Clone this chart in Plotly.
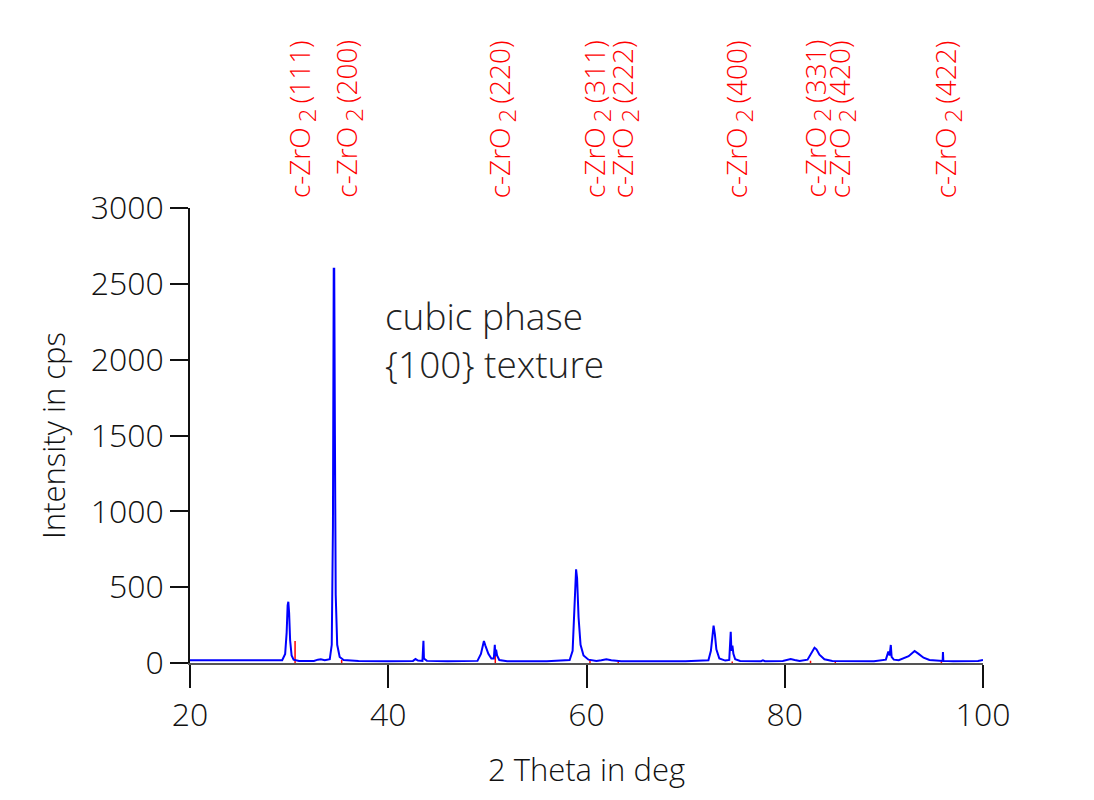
import plotly.graph_objects as go

theta = [20, 25, 28, 29.3, 29.6, 29.75, 29.85, 29.92, 30.0, 30.1, 30.25, 30.45, 31, 32.5, 32.9, 33.2, 33.6,
         34.1, 34.3, 34.42, 34.5, 34.55, 34.62, 34.7, 34.85, 35.1, 35.5, 37, 40, 42.5, 42.75, 43.0, 43.45,
         43.55, 43.6, 43.7, 43.9, 46, 49.0, 49.35, 49.55, 49.65, 49.8, 50.1, 50.4, 50.65, 50.75, 50.8,
         50.88, 50.98, 51.2, 52, 56, 58.3, 58.6, 58.8, 58.95, 59.05, 59.2, 59.4, 59.7, 60.2, 61, 61.5, 62.0,
         62.5, 63.5, 70, 72.3, 72.55, 72.75, 72.82, 72.95, 73.1, 73.4, 74.0, 74.4, 74.55, 74.62, 74.72,
         74.82, 75.0, 75.5, 77.6, 77.8, 78.0, 79.8, 80.2, 80.6, 81.0, 81.5, 82.3, 82.7, 83.0, 83.2, 83.5,
         84.0, 84.8, 89, 90.2, 90.45, 90.58, 90.7, 90.78, 91.0, 91.5, 92.5, 93.1, 93.5, 94.0, 94.6, 95.5,
         95.93, 95.96, 96.0, 97, 99.5, 100]
intensity = [18, 17, 15, 18, 60, 200, 380, 404, 330, 150, 50, 22, 14, 14, 22, 24, 18,
             25, 120, 900, 2600, 2600, 1500, 450, 120, 40, 20, 14, 12, 14, 26, 16, 14,
             147, 30, 26, 14, 12, 14, 60, 130, 145, 115, 60, 30, 30, 120, 45,
             88, 50, 20, 12, 12, 20, 80, 400, 618, 560, 300, 120, 50, 22, 14, 18, 24,
             18, 12, 12, 18, 80, 230, 246, 190, 90, 30, 16, 20, 206, 80, 114,
             60, 25, 14, 12, 18, 12, 14, 22, 26, 20, 14, 22, 70, 101, 90, 55,
             25, 14, 12, 22, 75, 50, 119, 40, 22, 18, 45, 79, 60, 35, 20, 14,
             14, 72, 14, 12, 13, 20]

# Reference pattern c-ZrO2
ref_theta = [30.6, 35.3, 50.8, 60.35, 63.2, 74.7, 82.6, 85.1, 95.8]
ref_height = [145, 20, 60, 20, 8, 10, 15, 10, 12]
ref_hkl = ["111", "200", "220", "311", "222", "400", "331", "420", "422"]

FONT = "Open Sans"
W = 350

stick_x, stick_y = [], []
for t, h in zip(ref_theta, ref_height):
    stick_x += [t, t, None]
    stick_y += [0, h, None]

fig = go.Figure()
fig.add_trace(go.Scatter(x=stick_x, y=stick_y, mode="lines",
                         line=dict(color="#ff0000", width=1.5), hoverinfo="skip", showlegend=False))
fig.add_trace(go.Scatter(x=theta, y=intensity, mode="lines",
                         line=dict(color="#0000ff", width=2), showlegend=False))

for t, hkl in zip(ref_theta, ref_hkl):
    fig.add_annotation(x=t, xref="x", y=1, yref="paper", yanchor="bottom", xanchor="center",
                       yshift=8, xshift=6, textangle=-90, showarrow=False,
                       text="c-ZrO<sub> <span style=\"font-size:24px\">2</span> </sub>(" + hkl + ")",
                       font=dict(family=FONT, size=28, color="#ff0000", weight=W))

fig.add_annotation(x=39.5, xref="x", y=2470, yref="y", xanchor="left", yanchor="top", align="left",
                   showarrow=False, text="cubic phase<br>{100} texture",
                   font=dict(family=FONT, size=37, color="#222222", weight=W))

fig.update_layout(
    width=1094, height=800,
    margin=dict(l=190, r=111, t=208, b=137),
    paper_bgcolor="white", plot_bgcolor="white",
    font=dict(family=FONT, size=31, color="#111111", weight=W),
    xaxis=dict(range=[20, 100], tickvals=[20, 40, 60, 80, 100], ticks="outside", ticklen=23,
               tickcolor="#111111", tickwidth=1.5, showline=True, linecolor="#555555", linewidth=1.5,
               showgrid=False, zeroline=False, tickfont=dict(size=32, weight=W),
               title=dict(text="2 Theta in deg", standoff=25, font=dict(size=31, weight=W))),
    yaxis=dict(range=[0, 3000], tickvals=[0, 500, 1000, 1500, 2000, 2500, 3000], ticks="outside",
               ticklen=18, tickcolor="#111111", tickwidth=1.5, showline=True, linecolor="#111111",
               linewidth=1.5, showgrid=False, zeroline=False, tickfont=dict(size=32, weight=W),
               title=dict(text="Intensity in cps", standoff=16, font=dict(size=31, weight=W))),
)

fig.write_html("out.html")
